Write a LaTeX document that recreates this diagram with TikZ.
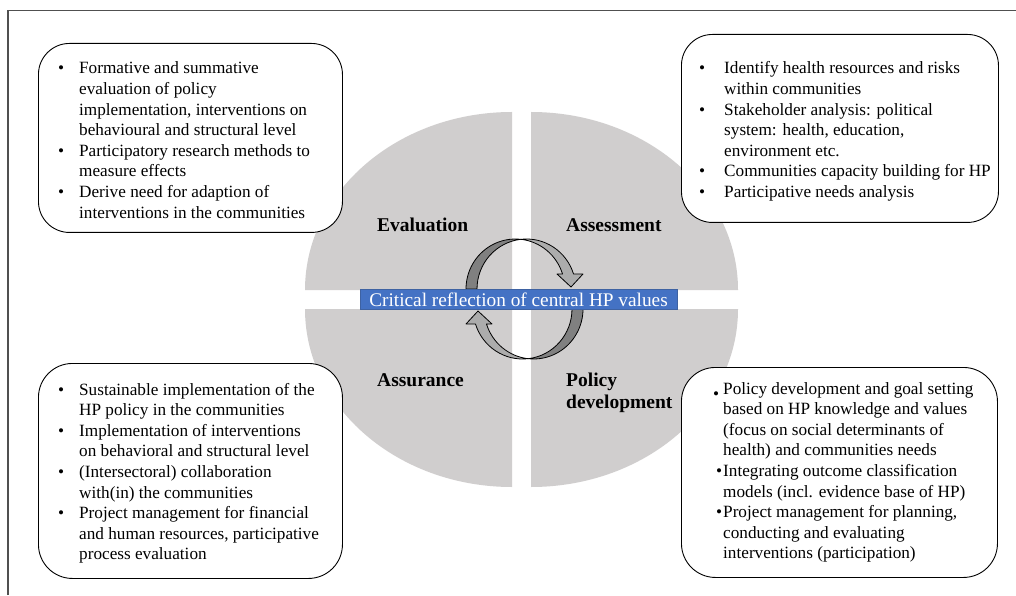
\documentclass[tikz,border=0pt]{standalone}
\usepackage{fontspec}
\setmainfont{Liberation Serif}

\definecolor{discgray}{RGB}{208,206,206}
\definecolor{arrowdark}{RGB}{128,128,128}
\definecolor{arrowlight}{RGB}{172,172,172}
\definecolor{hpblue}{RGB}{68,114,196}
\definecolor{hpblueline}{RGB}{62,98,162}
\definecolor{framegray}{RGB}{80,80,80}

\newcommand\bodysize{\fontsize{17.2pt}{20.6pt}\selectfont}
\newcommand\labelsize{\fontsize{19.5pt}{22pt}\selectfont\bfseries}
\newcommand\bul[1]{\makebox[#1][l]{\textbullet}}

\begin{document}
\begin{tikzpicture}[x=1pt,y=1pt,
  quarter/.style={fill=discgray},
  infobox/.style={draw=black, line width=0.9pt, fill=white, anchor=north west, inner sep=0pt},
  listtext/.style={anchor=base west, inner sep=0pt, font=\bodysize},
  phase/.style={anchor=base west, inner sep=0pt, font=\labelsize},
  shadepart/.style={fill=arrowdark, draw=black, line width=0.8pt, line join=round},
  facepart/.style={fill=arrowlight, draw=black, line width=0.8pt, line join=round},
  centrebox/.style={fill=hpblue, draw=hpblueline, line width=0.6pt, text=white,
    inner sep=0pt, font=\fontsize{19.3pt}{22pt}\selectfont}
]
\useasboundingbox (0,0) rectangle (1016,595);
\fill[white] (0,0) rectangle (1016,595);

% outer frame
\draw[framegray, line width=1.3pt] (8,0) -- (8,584.5) -- (1016,584.5);

% the disc, split into four quarters
\fill[quarter] (512,305) -- ++(0,178) arc[start angle=90, end angle=180, x radius=207, y radius=178] -- cycle;
\fill[quarter] (531,305) -- ++(207,0) arc[start angle=0, end angle=90, x radius=207, y radius=178] -- cycle;
\fill[quarter] (512,286) -- ++(-207,0) arc[start angle=180, end angle=270, x radius=207, y radius=178] -- cycle;
\fill[quarter] (531,286) -- ++(0,-178) arc[start angle=270, end angle=360, x radius=207, y radius=178] -- cycle;

% rounded boxes
\node[infobox, rounded corners=31pt, minimum width=304pt, minimum height=189pt] (evalbox) at (38,552) {};
\node[infobox, rounded corners=31pt, minimum width=317pt, minimum height=188pt] (assessbox) at (681,561) {};
\node[infobox, rounded corners=34pt, minimum width=304pt, minimum height=215pt] (assurebox) at (38,232) {};
\node[infobox, rounded corners=34pt, minimum width=316pt, minimum height=210pt] (policybox) at (681,228) {};

% box contents
\node[listtext] (evaltext) at (58,521) {\begin{tabular}[t]{@{}l@{}l@{}}
\bul{21pt} & Formative and summative\\
 & evaluation of policy\\
 & implementation, interventions on\\
 & behavioural and structural level\\
\bul{21pt} & Participatory research methods to\\
 & measure effects\\
\bul{21pt} & Derive need for adaption of\\
 & interventions in the communities
\end{tabular}};

\node[listtext] (assesstext) at (699,521) {\begin{tabular}[t]{@{}l@{}l@{}}
\bul{25pt} & Identify health resources and risks\\
 & within communities\\
\bul{25pt} & Stakeholder analysis: political\\
 & system: health, education,\\
 & environment etc.\\
\bul{25pt} & Communities capacity building for HP\\
\bul{25pt} & Participative needs analysis
\end{tabular}};

\node[listtext] (assuretext) at (58,200) {\begin{tabular}[t]{@{}l@{}l@{}}
\bul{21pt} & Sustainable implementation of the\\
 & HP policy in the communities\\
\bul{21pt} & Implementation of interventions\\
 & on behavioral and structural level\\
\bul{21pt} & (Intersectoral) collaboration\\
 & with(in) the communities\\
\bul{21pt} & Project management for financial\\
 & and human resources, participative\\
 & process evaluation
\end{tabular}};

\node[listtext] (policytext) at (713,201) {\begin{tabular}[t]{@{}l@{}l@{}}
\makebox[10pt][l]{\raisebox{-5pt}{\textbullet}} & Policy development and goal setting\\
 & based on HP knowledge and values\\
 & (focus on social determinants of\\
 & health) and communities needs\\
\makebox[10pt][r]{\textbullet\hspace{1pt}} & Integrating outcome classification\\
 & models (incl. evidence base of HP)\\
\makebox[10pt][r]{\textbullet\hspace{1pt}} & Project management for planning,\\
 & conducting and evaluating\\
 & interventions (participation)
\end{tabular}};

% quarter titles
\node[phase] (evaluation) at (377,363.3) {Evaluation};
\node[phase] (assessment) at (566,363.3) {Assessment};
\node[phase] (assurance) at (377,208.3) {Assurance};
\node[phase] (policydev) at (566,209) {\begin{tabular}[t]{@{}l@{}}Policy\\development\end{tabular}};

% curved arrow, upper half (left to right, pointing down)
\newcommand\cyclearrow{%
  \filldraw[shadepart] (466,306)
     arc[start angle=180, end angle=83.6, x radius=49.4, y radius=50]
     arc[start angle=96.4, end angle=180, x radius=49.4, y radius=50] -- cycle;
  \filldraw[facepart] (520.9,355.69)
     arc[start angle=96.4, end angle=17.46, x radius=49.4, y radius=50]
     -- (583,321) -- (571,308) -- (557,321) -- (562.53,321)
     arc[start angle=17.46, end angle=83.6, x radius=49.4, y radius=50] -- cycle;
}
\cyclearrow
% lower half: the same arrow turned half way round
\begin{scope}[rotate around={180:(524.5,296)}]
  \cyclearrow
\end{scope}

% central label
\node[centrebox, minimum width=317pt, minimum height=20pt] (reflection) at (518.5,295.7)
  {Critical reflection of central HP values};

\end{tikzpicture}
\end{document}
